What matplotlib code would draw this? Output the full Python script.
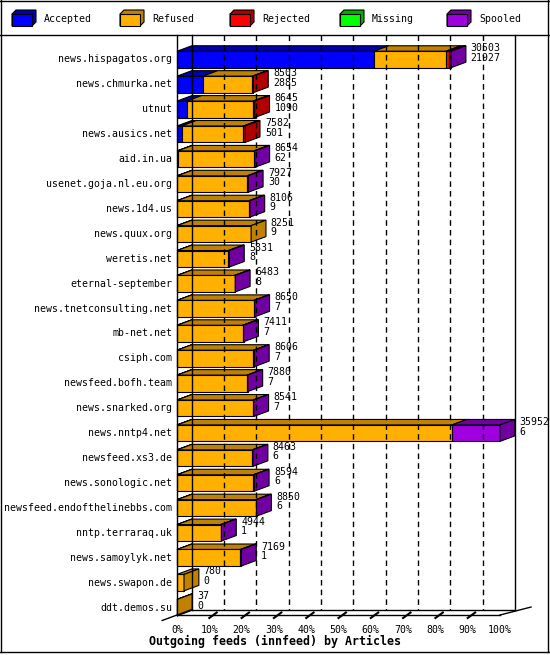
import matplotlib
matplotlib.use("Agg")
import matplotlib.pyplot as plt
from matplotlib.patches import Polygon

# feeds, top to bottom
hosts = ['news.hispagatos.org', 'news.chmurka.net', 'utnut', 'news.ausics.net', 'aid.in.ua',
         'usenet.goja.nl.eu.org', 'news.1d4.us', 'news.quux.org', 'weretis.net', 'eternal-september',
         'news.tnetconsulting.net', 'mb-net.net', 'csiph.com', 'newsfeed.bofh.team', 'news.snarked.org',
         'news.nntp4.net', 'newsfeed.xs3.de', 'news.sonologic.net', 'newsfeed.endofthelinebbs.com',
         'nntp.terraraq.uk', 'news.samoylyk.net', 'news.swapon.de', 'ddt.demos.su']
offered = [30503, 8503, 8645, 7582, 8654, 7927, 8106, 8251, 5831, 6483, 8650, 7411, 8606, 7880,
           8541, 35952, 8463, 8594, 8850, 4944, 7169, 780, 37]
accepted = [21927, 2885, 1090, 501, 62, 30, 9, 9, 8, 8, 7, 7, 7, 7, 7, 6, 6, 6, 6, 1, 1, 0, 0]
refused = [8000, 5500, 7400, 6900, 8500, 7800, 8000, 8242, 5700, 6400, 8550, 7300, 8500, 7800,
           8450, 30600, 8370, 8500, 8750, 4850, 7050, 780, 37]
rejected = [400, 118, 155, 181, 0, 0, 0, 0, 0, 0, 0, 0, 0, 0, 0, 0, 0, 0, 0, 0, 0, 0, 0]
missing = [0] * 23
spooled = [176, 0, 0, 0, 92, 97, 97, 0, 123, 75, 93, 104, 99, 73, 84, 5346, 87, 88, 94, 93, 118, 0, 0]

names = ['Accepted', 'Refused', 'Rejected', 'Missing', 'Spooled']
front = ['#0000ff', '#ffb000', '#ff0000', '#00ff00', '#a000e0']
top = ['#0000b0', '#c08000', '#b00000', '#00b000', '#7000a0']

mono = 'DejaVu Sans Mono'
fs = 7.1
fig = plt.figure(figsize=(5.5, 6.55), dpi=100)
W, H = 550, 655
# pixel box of plot: 0% at 177, 100% at 500, rows centered 59..607
ax = fig.add_axes([177 / W, 1 - 620 / H, 323 / W, 573 / H])
ax.set_xlim(0, 100)
ax.set_ylim(22.5, -0.5)
ax.axis('off')

dx = 4.6   # depth in percent
dy = 0.22  # depth in rows
hh = 0.33  # half bar height
scale = 100.0 / max(a + r + j + m + s for a, r, j, m, s in
                    zip(accepted, refused, rejected, missing, spooled))

# back wall grid
ytop, yfloor = -1.0, 22.3
for p in range(10, 100, 10):
    ax.plot([p + dx, p + dx], [ytop, yfloor - dy], color='black', lw=1, ls=(0, (4, 3)), clip_on=False)
ax.plot([dx, dx], [ytop, yfloor - dy], color='black', lw=1, clip_on=False)
ax.plot([100 + dx, 100 + dx], [ytop, yfloor - dy], color='black', lw=1, clip_on=False)
# floor
ax.plot([dx, 100 + dx], [yfloor - dy, yfloor - dy], color='black', lw=1, clip_on=False)
ax.plot([0, 100], [yfloor, yfloor], color='black', lw=1, clip_on=False)
ax.plot([-dx, dx], [yfloor + dy, yfloor - dy], color='black', lw=1, clip_on=False)
ax.plot([100, 100 + dx + 5], [yfloor, yfloor - dy - 0.1], color='black', lw=1, clip_on=False)
ax.plot([0, 0], [yfloor, ytop], color='black', lw=1, clip_on=False)
for p in range(0, 101, 10):
    ax.text(p, yfloor + 0.62, '%d%%' % p, ha='center', va='center', fontsize=fs, family=mono)
    if 0 < p < 100:
        ax.plot([p, p + dx * 0.5], [yfloor + 0.12, yfloor - 0.1], color='black', lw=1.5, clip_on=False)
fig.text(275 / W, 1 - 641 / H, 'Outgoing feeds (innfeed) by Articles', ha='center', va='center',
         fontsize=8.4, family=mono, weight='bold')

for i, h in enumerate(hosts):
    segs = [accepted[i], refused[i], rejected[i], missing[i], spooled[i]]
    x0 = 0.0
    last = 1
    for k, v in enumerate(segs):
        if v <= 0:
            continue
        w = v * scale
        ax.add_patch(Polygon([(x0, i - hh), (x0 + dx, i - hh - dy), (x0 + w + dx, i - hh - dy),
                              (x0 + w, i - hh)], closed=True, fc=top[k], ec='black', lw=0.8, clip_on=False))
        ax.add_patch(Polygon([(x0, i - hh), (x0 + w, i - hh), (x0 + w, i + hh), (x0, i + hh)],
                             closed=True, fc=front[k], ec='black', lw=0.8, clip_on=False))
        x0 += w
        last = k
    ax.add_patch(Polygon([(x0, i - hh), (x0 + dx, i - hh - dy), (x0 + dx, i + hh - dy), (x0, i + hh)],
                         closed=True, fc=top[last], ec='black', lw=0.8, clip_on=False))
    ax.text(x0 + dx + 1.5, i - hh - dy - 0.1, '%d\n%d' % (offered[i], accepted[i]), ha='left', va='top',
            fontsize=fs, family=mono, linespacing=0.95)
    ax.text(-1.5, i, h, ha='right', va='center', fontsize=fs, family=mono)

# legend strip
lx = [12, 120, 230, 340, 447]
for k, n in enumerate(names):
    x = lx[k]
    y = 10
    fig.patches.append(Polygon([(x / W, 1 - (y + 16) / H), (x / W, 1 - (y + 4) / H), ((x + 4) / W, 1 - y / H),
                                ((x + 24) / W, 1 - y / H), ((x + 24) / W, 1 - (y + 12) / H),
                                ((x + 20) / W, 1 - (y + 16) / H)], closed=True, fc=top[k], ec='black',
                               lw=0.8, transform=fig.transFigure))
    fig.patches.append(Polygon([(x / W, 1 - (y + 16) / H), (x / W, 1 - (y + 4) / H), ((x + 20) / W, 1 - (y + 4) / H),
                                ((x + 20) / W, 1 - (y + 16) / H)], closed=True, fc=front[k], ec='black',
                               lw=0.8, transform=fig.transFigure))
    fig.text((x + 32) / W, 1 - 19 / H, n, fontsize=fs, family=mono, va='center')

for yy in [1, 35, 652]:
    fig.add_artist(plt.Line2D([0, 1], [1 - yy / H, 1 - yy / H], color='black', lw=1))
fig.add_artist(plt.Line2D([1 / W, 1 / W], [1 - 652 / H, 1], color='black', lw=1))
fig.add_artist(plt.Line2D([548 / W, 548 / W], [1 - 652 / H, 1], color='black', lw=1))

fig.savefig('out.png', dpi=100)
